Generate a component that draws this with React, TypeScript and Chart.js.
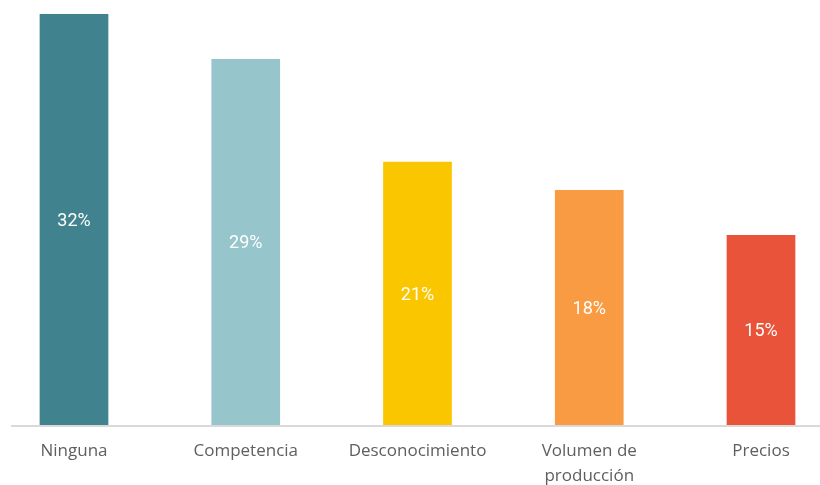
import React, { useEffect, useRef } from "react";
import { Chart, registerables } from "chart.js";

Chart.register(...registerables);

const categories: (string | string[])[] = [
  "Ninguna",
  "Competencia",
  "Desconocimiento",
  ["Volumen de", "producción"],
  "Precios",
];
const values: number[] = [32, 28.5, 20.5, 18.3, 14.8];
const barColors: string[] = ["#40838E", "#96C5CB", "#FAC600", "#F89B43", "#E9533A"];
const valueLabels: string[] = values.map((v) => `${Math.round(v)}%`);

const baselinePlugin = {
  id: "baselinePlugin",
  afterDatasetsDraw(chart: any) {
    const { ctx } = chart;
    const y = chart.scales.y.getPixelForValue(0);
    ctx.save();
    ctx.strokeStyle = "#d9d9d9";
    ctx.lineWidth = 2;
    ctx.beginPath();
    ctx.moveTo(11, y + 1);
    ctx.lineTo(chart.width, y + 1);
    ctx.stroke();
    ctx.restore();
  },
};

const valueLabelPlugin = {
  id: "valueLabelPlugin",
  afterDatasetsDraw(chart: any) {
    const { ctx } = chart;
    const meta = chart.getDatasetMeta(0);
    ctx.save();
    ctx.fillStyle = "#ffffff";
    ctx.font = "400 18px Roboto";
    ctx.textAlign = "center";
    ctx.textBaseline = "middle";
    meta.data.forEach((bar: any, i: number) => {
      ctx.fillText(valueLabels[i], bar.x, (bar.y + bar.base) / 2 + 2);
    });
    ctx.restore();
  },
};

export default function App() {
  const canvasRef = useRef<HTMLCanvasElement | null>(null);

  useEffect(() => {
    document.body.style.margin = "0";
    const chart = new Chart(canvasRef.current as HTMLCanvasElement, {
      type: "bar",
      data: {
        labels: categories,
        datasets: [
          {
            data: values,
            backgroundColor: barColors,
            borderWidth: 0,
            barPercentage: 1,
            categoryPercentage: 0.4,
            clip: false as any,
          },
        ],
      },
      options: {
        animation: false,
        responsive: true,
        maintainAspectRatio: false,
        layout: { padding: { left: 74, right: 59, top: 14, bottom: 0 } },
        plugins: {
          legend: { display: false },
          tooltip: { enabled: false },
        },
        scales: {
          x: {
            offset: false,
            grid: { display: false, drawTicks: false },
            border: { display: false },
            afterFit: (scale: any) => {
              scale.height = 60;
            },
            ticks: {
              padding: 14,
              color: "#5f5f5f",
              font: { family: "'Open Sans'", size: 17, lineHeight: 1.45 },
              maxRotation: 0,
              autoSkip: false,
            },
          },
          y: {
            display: false,
            min: 0,
            max: 32,
          },
        },
      },
      plugins: [baselinePlugin, valueLabelPlugin],
    });
    return () => chart.destroy();
  }, []);

  return (
    <div style={{ position: "fixed", left: 0, top: 0, width: 820, height: 485, background: "#fff" }}>
      <canvas ref={canvasRef} />
    </div>
  );
}
